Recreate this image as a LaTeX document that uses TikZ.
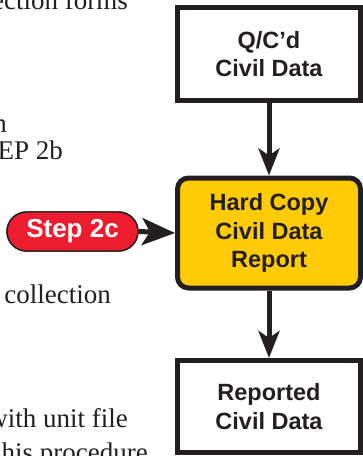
\documentclass[tikz,border=0pt]{standalone}
\usepackage{fontspec}
\setmainfont{Liberation Serif}
\setsansfont{Liberation Sans}
\usetikzlibrary{arrows.meta}

\definecolor{ink}{RGB}{35,31,32}
\definecolor{amber}{RGB}{255,203,5}
\definecolor{stepred}{RGB}{237,28,46}

\tikzset{
  databox/.style={draw=ink, line width=5pt, fill=white, text=ink,
    minimum width=183pt, align=center, inner sep=0pt,
    font=\sffamily\bfseries\fontsize{23.5}{28.5}\selectfont},
  reportbox/.style={databox, fill=amber, rounded corners=11pt},
  steppill/.style={draw=ink, line width=1.4pt, fill=stepred, text=white,
    rounded corners=19.5pt, minimum width=131pt, minimum height=39pt,
    inner sep=0pt, font=\sffamily\bfseries\fontsize{26}{30}\selectfont},
  flow/.style={draw=ink, line width=5pt,
    -{Stealth[length=27pt, width=21pt, inset=7pt]}},
  bodytext/.style={anchor=base east, inner sep=0pt, text=ink,
    font=\fontsize{27}{31}\selectfont}
}

\begin{document}
\begin{tikzpicture}[x=1pt, y=-1pt]
  \useasboundingbox (0,0) rectangle (363,456);
  \clip (0,0) rectangle (363,456);

  % running text of the page beside the chart
  \node[bodytext] (t1) at (128,9.5) {ection forms};
  \node[bodytext] (t2) at (7,132)   {n};
  \node[bodytext] (t3) at (63,159)  {EP 2b};
  \node[bodytext] (t4) at (111,303) {collection};
  \node[bodytext] (t5) at (128,427) {with unit file};
  \node[bodytext] (t6) at (148,461) {his procedure};

  % process chain
  \node[databox, minimum height=93pt] (qc) at (269,54)
    {Q/C'd\\Civil Data};
  \node[reportbox, minimum height=110pt] (hc) at (269,233)
    {Hard Copy\\Civil Data\\Report};
  \node[databox, minimum height=92pt] (rep) at (269,406.5)
    {Reported\\Civil Data};

  \draw[flow] (qc) -- (hc);
  \draw[flow] (hc) -- (rep);

  % step marker feeding the report
  \node[steppill] (step) at (72.5,231.5) {Step 2c};
  \draw[white, line width=9pt,
    -{Stealth[length=36pt, width=34pt, inset=10pt]}]
    (step.east) -- (hc.west);
  \draw[ink, line width=5pt,
    -{Stealth[length=33pt, width=27pt, inset=8pt]}]
    (step.east) -- (hc.west);
  \node[steppill] at (step) {Step 2c};
\end{tikzpicture}
\end{document}
